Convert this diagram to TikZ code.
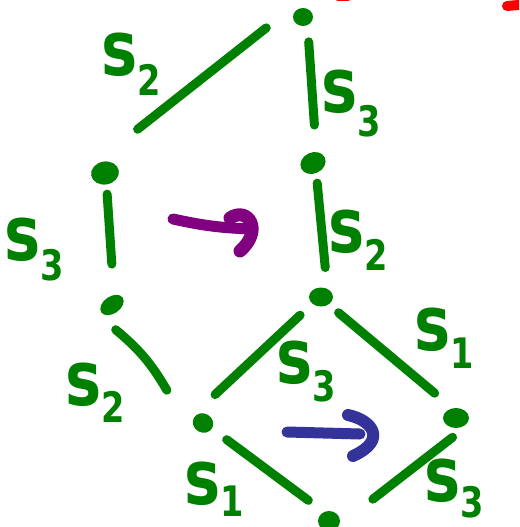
\documentclass[tikz,border=0pt]{standalone}
\usepackage{fontspec}
\setmainfont{DejaVu Sans}
\usepackage{tikz}
\usetikzlibrary{
  shapes.geometric,
  calc
}
\definecolor{hgGreen}{HTML}{008000}
\definecolor{hgPurple}{HTML}{800080}
\definecolor{hgBlue}{HTML}{333399}
\definecolor{hgRed}{HTML}{FF0000}
\newcommand\sgen[2][20pt]{\scalebox{.8}[1]{\bfseries s\raisebox{-#1}{\fontsize{42}{42}\selectfont #2}}}
\tikzset{
  vdot/.style={ellipse, fill=hgGreen, inner sep=0pt},
  hasse/.style={draw=hgGreen, line width=9pt, line cap=round},
  genlabel/.style={font=\fontsize{76}{76}\selectfont, text=hgGreen, inner sep=0pt, anchor=base west},
  move/.style={line width=11pt, line cap=round, line join=round}
}

\begin{document}
\begin{tikzpicture}[x=1pt, y=-1pt]
  \useasboundingbox (0,0) rectangle (519,527);
  \clip (0,0) rectangle (519,527);
  % elements
  \node[vdot, minimum width=20pt, minimum height=18pt] (d0) at (303,17) {};
  \node[vdot, minimum width=28pt, minimum height=23pt, rotate=10] (d1) at (105,173) {};
  \node[vdot, minimum width=26pt, minimum height=21pt, rotate=25] (d2) at (313,163) {};
  \node[vdot, minimum width=26pt, minimum height=17pt, rotate=35] (d3) at (112,305) {};
  \node[vdot, minimum width=24pt, minimum height=19pt] (d4) at (321,297) {};
  \node[vdot, minimum width=21pt, minimum height=19pt, rotate=-30] (d5) at (203,423) {};
  \node[vdot, minimum width=26pt, minimum height=20pt] (d6) at (456,418) {};
  \node[vdot, minimum width=22pt, minimum height=20pt] (d7) at (329,521) {};
  % covering lines
  \draw[hasse] ($(d1)!.21!(d0)+(-9,-11)$) -- ($(d1)!.86!(d0)+(-9,-11)$);
  \draw[hasse] ($(d0)!.17!(d2)+(4,0)$) -- ($(d0)!.74!(d2)+(4,0)$);
  \draw[hasse] ($(d1)!.16!(d3)+(1,0)$) -- ($(d1)!.69!(d3)+(2,0)$);
  \draw[hasse] ($(d2)!.15!(d4)+(3,0)$) -- ($(d2)!.78!(d4)+(6,0)$);
  \draw[hasse] ($(d3)!.15!(d5)+(-10,7)$) to[bend left=10] ($(d3)!.68!(d5)+(-7,5)$);
  \draw[hasse] ($(d4)!.16!(d5)+(-2,-2)$) -- ($(d4)!.83!(d5)+(-8,-7)$);
  \draw[hasse] ($(d4)!.13!(d6)$) -- ($(d4)!.82!(d6)+(3,-3)$);
  \draw[hasse] ($(d5)!.18!(d7)+(1,-1)$) -- ($(d5)!.82!(d7)+(2,-3)$);
  \draw[hasse] ($(d6)!.09!(d7)+(8,10)$) -- ($(d6)!.71!(d7)+(7,8)$);
  % labels
  \node[genlabel] (l1) at (101,75) {\sgen{2}};
  \node[genlabel] (l2) at (321,112) {\sgen[24pt]{3}};
  \node[genlabel] (l3) at (4,260) {\sgen{3}};
  \node[genlabel] (l4) at (328,252) {\sgen[18pt]{2}};
  \node[genlabel] (l5) at (65,405) {\sgen[17pt]{2}};
  \node[genlabel] (l6) at (276,383) {\sgen[18pt]{3}};
  \node[genlabel] (l7) at (414,350) {\sgen[18pt]{1}};
  \node[genlabel] (l8) at (184,504) {\sgen[12pt]{1}};
  \node[genlabel] (l9) at (424,501) {\sgen[16pt]{3}};
  % moves
  \draw[move, hgPurple] (173,219) to[bend right=5] (250,229);
  \draw[move, hgPurple, line width=13pt] (230,218) .. controls (248,206) and (264,230) .. (240,251);
  \draw[move, hgBlue] (287,432) -- (360,434);
  \draw[move, hgBlue, line width=12pt] (348,415) .. controls (372,420) and (388,440) .. (353,456);
  % stray marks
  \draw[hgRed, line width=10pt, line cap=round] (507,6) -- (530,4);
  \draw[hgRed, line width=10pt, line cap=round] (338,-4) -- (348,-4);
\end{tikzpicture}
\end{document}
